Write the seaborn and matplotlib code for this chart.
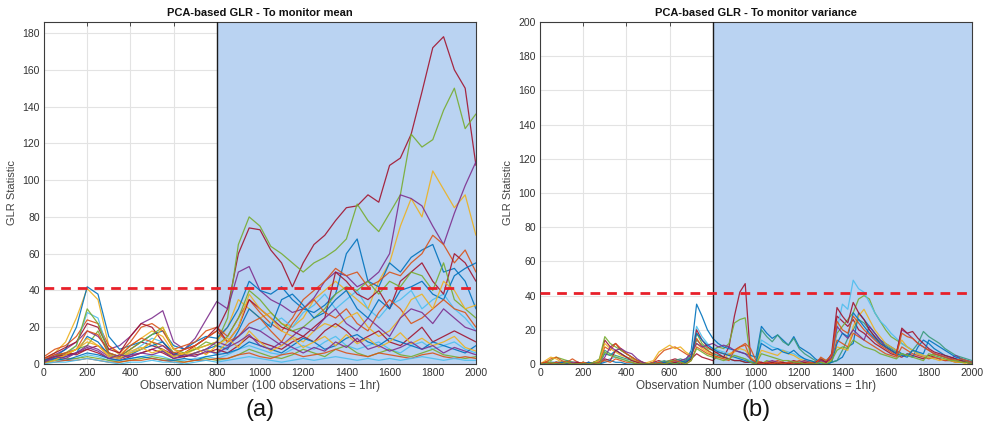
import numpy as np
import pandas as pd
import matplotlib
matplotlib.use("Agg")
import matplotlib.pyplot as plt
import seaborn as sns

# ---------------------------------------------------------------------------
# GLR statistic traces (one list per monitored run)
# Panel (a): sampled every 50 observations, 0..2000
# Panel (b): sampled every 25 observations, 0..2000
# ---------------------------------------------------------------------------
obs_a = np.arange(0, 2001, 50)
obs_b = np.arange(0, 2001, 25)

mean_runs = {
    "m01": [2, 4, 6, 5, 8, 10, 6, 4, 8, 12, 10, 8, 5, 6, 10, 14, 18, 30, 60, 74, 73, 62, 55, 42, 55, 65, 70, 78, 85, 86, 92, 88, 108, 112, 125, 148, 172, 178, 160, 150, 108],
    "m02": [1, 3, 5, 8, 10, 18, 5, 3, 6, 8, 12, 7, 4, 6, 8, 10, 12, 25, 65, 80, 75, 64, 60, 55, 50, 55, 58, 62, 68, 87, 78, 72, 82, 92, 125, 118, 122, 138, 150, 128, 136],
    "m03": [3, 6, 12, 25, 41, 35, 10, 5, 10, 14, 18, 15, 6, 5, 8, 10, 12, 20, 35, 30, 25, 28, 22, 20, 25, 35, 40, 45, 40, 35, 30, 45, 55, 75, 90, 80, 105, 95, 85, 92, 70],
    "m04": [2, 5, 8, 12, 18, 15, 8, 10, 15, 22, 25, 29, 12, 8, 14, 24, 34, 30, 50, 53, 40, 35, 32, 28, 30, 36, 45, 50, 48, 42, 45, 50, 60, 92, 90, 86, 75, 65, 82, 97, 110],
    "m05": [2, 4, 8, 20, 42, 38, 15, 8, 10, 12, 16, 18, 10, 8, 12, 15, 14, 20, 30, 45, 40, 38, 42, 35, 30, 28, 32, 38, 60, 68, 45, 42, 55, 50, 58, 62, 65, 50, 52, 45, 30],
    "m06": [4, 8, 10, 15, 24, 22, 10, 6, 12, 20, 22, 18, 8, 10, 12, 18, 20, 15, 25, 35, 28, 22, 18, 25, 35, 40, 45, 52, 48, 50, 42, 45, 50, 48, 55, 60, 70, 65, 55, 62, 50],
    "m07": [1, 3, 5, 10, 28, 25, 6, 4, 6, 10, 14, 12, 5, 4, 6, 8, 5, 10, 15, 20, 18, 22, 25, 20, 28, 32, 38, 30, 35, 40, 30, 25, 32, 35, 40, 30, 35, 38, 30, 25, 18],
    "m08": [3, 6, 9, 12, 22, 20, 8, 6, 15, 22, 20, 12, 5, 8, 10, 14, 20, 12, 20, 35, 30, 25, 20, 18, 15, 20, 25, 50, 45, 38, 35, 40, 30, 45, 50, 55, 45, 38, 60, 55, 45],
    "m09": [2, 4, 6, 10, 30, 22, 6, 4, 8, 12, 16, 20, 8, 6, 8, 12, 10, 15, 25, 40, 35, 28, 22, 18, 20, 25, 30, 38, 42, 40, 45, 38, 45, 42, 50, 48, 40, 55, 35, 30, 25],
    "m10": [1, 2, 4, 6, 15, 12, 5, 3, 5, 8, 10, 12, 6, 4, 6, 8, 10, 8, 18, 30, 25, 20, 35, 38, 32, 25, 28, 35, 40, 30, 25, 35, 30, 40, 42, 45, 38, 35, 48, 52, 55],
    "m11": [3, 5, 6, 8, 18, 16, 6, 4, 10, 14, 12, 10, 6, 8, 10, 14, 18, 12, 15, 22, 25, 18, 12, 22, 30, 35, 28, 25, 30, 22, 18, 28, 35, 30, 22, 25, 30, 35, 30, 28, 20],
    "m12": [2, 3, 5, 8, 12, 10, 5, 3, 6, 8, 12, 20, 8, 5, 6, 8, 6, 12, 20, 38, 30, 25, 18, 15, 12, 18, 22, 20, 25, 28, 20, 15, 18, 25, 35, 38, 30, 45, 40, 30, 32],
    "m13": [1, 3, 4, 6, 10, 8, 4, 3, 5, 6, 8, 10, 5, 4, 6, 8, 12, 10, 15, 20, 18, 14, 10, 15, 20, 18, 25, 30, 22, 18, 25, 20, 15, 25, 30, 28, 22, 30, 25, 20, 18],
    "m14": [2, 4, 5, 6, 8, 6, 3, 2, 4, 6, 8, 6, 3, 4, 5, 6, 8, 6, 10, 15, 12, 10, 8, 12, 15, 12, 18, 22, 18, 12, 15, 18, 12, 10, 15, 20, 12, 15, 18, 15, 12],
    "m15": [1, 2, 2, 3, 5, 4, 2, 2, 3, 4, 5, 4, 2, 2, 3, 4, 3, 5, 8, 10, 8, 6, 5, 8, 10, 8, 12, 15, 10, 8, 10, 12, 8, 6, 10, 12, 8, 10, 12, 8, 6],
    "m16": [1, 2, 3, 3, 4, 3, 2, 1, 2, 3, 4, 3, 2, 1, 2, 3, 2, 3, 5, 8, 6, 4, 3, 5, 8, 6, 4, 8, 10, 6, 4, 6, 8, 5, 4, 6, 8, 5, 4, 3, 4],
    "m17": [2, 3, 2, 4, 6, 5, 3, 2, 3, 4, 3, 2, 2, 3, 2, 4, 5, 6, 8, 12, 10, 8, 6, 10, 14, 12, 8, 10, 14, 16, 12, 10, 14, 12, 10, 8, 12, 10, 8, 6, 10],
    "m18": [1, 1, 2, 2, 3, 2, 1, 1, 2, 2, 3, 2, 1, 1, 2, 2, 3, 3, 5, 6, 4, 3, 5, 6, 4, 5, 6, 8, 6, 5, 4, 6, 5, 4, 3, 5, 6, 4, 3, 4, 3],
    "m19": [0, 2, 5, 8, 14, 10, 4, 3, 7, 9, 6, 8, 4, 6, 9, 5, 10, 14, 9, 18, 12, 7, 10, 14, 9, 12, 15, 10, 16, 11, 14, 9, 12, 17, 11, 14, 10, 12, 15, 9, 7],
    "m20": [1, 4, 3, 6, 9, 7, 3, 5, 4, 6, 5, 7, 3, 5, 4, 7, 6, 9, 12, 16, 10, 8, 12, 9, 6, 9, 7, 12, 9, 14, 8, 10, 7, 9, 12, 8, 10, 6, 9, 7, 5],
    "m21": [0, 1, 1, 2, 3, 2, 1, 0, 1, 1, 2, 1, 1, 0, 1, 2, 1, 2, 3, 4, 3, 2, 1, 2, 3, 2, 3, 4, 3, 2, 3, 2, 3, 2, 3, 4, 3, 2, 3, 2, 2],
}

var_runs = {
    "v01": [0, 1, 0, 1, 1, 1, 0, 0, 1, 0, 1, 2, 14, 10, 12, 8, 6, 4, 2, 1,
            0, 1, 2, 1, 2, 3, 2, 1, 3, 6, 4, 3, 2, 5, 4, 10, 28, 42, 47, 3,
            1, 0, 1, 0, 1, 0, 1, 2, 1, 0, 1, 0, 2, 1, 3, 28, 25, 22, 26, 20,
            18, 15, 12, 10, 8, 6, 5, 4, 6, 5, 4, 3, 5, 4, 3, 2, 2, 1, 1, 2, 1],
    "v02": [0, 1, 2, 4, 3, 2, 1, 0, 1, 0, 1, 3, 16, 12, 10, 8, 6, 4, 2, 1,
            0, 0, 1, 1, 2, 2, 1, 2, 4, 18, 12, 9, 8, 10, 9, 12, 24, 26, 27, 2,
            1, 0, 2, 1, 0, 1, 0, 1, 0, 1, 2, 1, 3, 2, 5, 18, 22, 26, 30, 38,
            40, 38, 30, 25, 20, 16, 14, 12, 10, 8, 6, 5, 4, 6, 5, 4, 3, 2, 2, 1, 1],
    "v03": [0, 0, 1, 1, 0, 1, 0, 0, 1, 0, 0, 1, 6, 5, 8, 6, 4, 3, 1, 0,
            0, 1, 0, 1, 0, 1, 1, 2, 8, 35, 28, 20, 15, 12, 10, 9, 8, 7, 6, 5,
            4, 22, 18, 15, 17, 14, 11, 16, 10, 8, 6, 3, 1, 0, 1, 2, 4, 10, 12, 30,
            26, 22, 18, 14, 12, 10, 8, 6, 5, 4, 10, 14, 12, 9, 7, 5, 4, 3, 2, 1, 0],
    "v04": [0, 0, 0, 1, 0, 0, 1, 0, 0, 1, 0, 0, 2, 3, 4, 3, 2, 1, 0, 0,
            0, 0, 1, 1, 0, 1, 2, 3, 6, 22, 16, 12, 9, 8, 7, 6, 5, 4, 3, 2,
            1, 14, 12, 10, 9, 8, 7, 6, 4, 3, 1, 0, 1, 2, 5, 20, 35, 32, 49, 44,
            42, 36, 30, 25, 22, 18, 15, 12, 10, 8, 6, 5, 4, 3, 5, 4, 3, 2, 1, 1, 0],
    "v05": [0, 0, 0, 1, 1, 2, 1, 1, 0, 0, 1, 2, 8, 6, 5, 4, 3, 2, 1, 0,
            0, 0, 1, 2, 1, 2, 3, 2, 5, 14, 11, 8, 6, 5, 4, 3, 2, 2, 1, 1,
            1, 20, 16, 13, 17, 13, 11, 15, 9, 6, 4, 2, 1, 0, 1, 2, 8, 15, 20, 26,
            24, 20, 16, 13, 11, 9, 7, 6, 5, 8, 12, 19, 16, 14, 12, 9, 7, 5, 4, 3, 2],
    "v06": [0, 1, 3, 4, 2, 1, 3, 1, 0, 1, 0, 1, 10, 8, 12, 9, 6, 4, 2, 1,
            0, 1, 5, 8, 9, 10, 8, 6, 4, 15, 10, 8, 6, 7, 6, 5, 8, 10, 12, 9,
            2, 1, 0, 1, 2, 1, 0, 1, 2, 1, 0, 1, 2, 1, 3, 14, 12, 10, 18, 16,
            14, 12, 10, 8, 6, 5, 4, 10, 8, 6, 5, 4, 3, 4, 3, 2, 3, 2, 1, 1, 0],
    "v07": [0, 2, 4, 3, 1, 0, 1, 0, 1, 0, 1, 2, 12, 9, 7, 5, 4, 3, 1, 0,
            1, 2, 7, 9, 11, 9, 10, 7, 5, 12, 9, 7, 5, 4, 3, 6, 7, 9, 8, 4,
            1, 8, 7, 6, 5, 8, 6, 5, 3, 2, 1, 0, 1, 0, 2, 10, 9, 8, 22, 28,
            32, 26, 20, 16, 12, 10, 8, 14, 10, 8, 6, 5, 4, 3, 2, 3, 2, 1, 1, 0, 0],
    "v08": [0, 0, 1, 0, 1, 0, 1, 1, 0, 1, 0, 1, 4, 10, 8, 9, 7, 6, 3, 1,
            0, 0, 1, 0, 1, 1, 2, 3, 6, 12, 10, 11, 12, 10, 11, 10, 8, 7, 6, 3,
            1, 0, 1, 2, 1, 0, 1, 0, 1, 2, 1, 0, 2, 1, 4, 22, 18, 15, 20, 17,
            14, 22, 18, 14, 10, 8, 6, 20, 18, 15, 12, 10, 8, 6, 5, 4, 3, 5, 3, 2, 1],
    "v09": [0, 1, 0, 1, 0, 1, 0, 1, 0, 0, 1, 0, 3, 2, 8, 6, 4, 2, 1, 0,
            0, 0, 0, 1, 0, 1, 0, 1, 3, 20, 14, 10, 8, 6, 4, 3, 2, 2, 1, 1,
            0, 1, 0, 1, 0, 1, 0, 1, 0, 1, 0, 1, 3, 1, 6, 33, 28, 24, 36, 30,
            26, 20, 16, 12, 10, 8, 6, 21, 18, 19, 15, 12, 9, 7, 6, 5, 4, 3, 2, 1, 0],
    "v10": [0, 0, 0, 0, 1, 0, 0, 0, 0, 1, 0, 0, 1, 2, 1, 1, 0, 0, 0, 0,
            0, 0, 0, 1, 0, 0, 1, 1, 4, 18, 14, 11, 9, 7, 6, 5, 4, 3, 2, 1,
            1, 12, 10, 8, 9, 7, 6, 8, 5, 3, 2, 1, 0, 0, 1, 12, 18, 16, 30, 26,
            22, 18, 15, 12, 10, 8, 6, 5, 4, 8, 7, 6, 14, 12, 10, 8, 6, 4, 3, 2, 1],
    "v11": [0, 1, 0, 1, 0, 1, 0, 0, 1, 0, 0, 1, 2, 1, 3, 2, 1, 1, 0, 0,
            0, 0, 1, 0, 1, 2, 1, 0, 2, 10, 8, 6, 5, 4, 3, 2, 8, 10, 11, 3,
            1, 0, 1, 0, 1, 0, 1, 0, 0, 0, 1, 0, 4, 2, 5, 25, 20, 18, 28, 24,
            20, 17, 14, 11, 9, 7, 5, 18, 16, 15, 12, 10, 8, 6, 5, 4, 3, 2, 3, 2, 1],
    "v12": [0, 0, 1, 0, 0, 1, 0, 0, 0, 0, 1, 0, 7, 5, 4, 3, 2, 1, 0, 0,
            0, 0, 0, 0, 1, 0, 1, 0, 2, 9, 7, 5, 4, 3, 2, 3, 5, 4, 3, 1,
            0, 6, 5, 4, 3, 2, 2, 1, 1, 0, 0, 0, 1, 0, 2, 8, 10, 9, 14, 12,
            10, 9, 8, 6, 5, 4, 3, 6, 5, 4, 3, 2, 6, 5, 4, 3, 2, 2, 1, 1, 0],
}

threshold = 41.5
shift_start = 800
titles = ["PCA-based GLR - To monitor mean", "PCA-based GLR - To monitor variance"]
panel_tags = ["(a)", "(b)"]
y_limits = [186, 200]
x_label = "Observation Number (100 observations = 1hr)"
y_label = "GLR Statistic"

# MATLAB-style default colour order
mean_colors = ["#A2142F", "#77AC30", "#EDB120", "#7E2F8E", "#0072BD", "#D95319", "#4DBEEE",
               "#A2142F", "#77AC30", "#0072BD", "#D95319", "#EDB120", "#7E2F8E", "#A2142F",
               "#4DBEEE", "#77AC30", "#0072BD", "#D95319", "#EDB120", "#7E2F8E", "#4DBEEE"]
var_colors = ["#A2142F", "#77AC30", "#0072BD", "#4DBEEE", "#3a9a7a", "#D95319",
              "#EDB120", "#7E2F8E", "#A2142F", "#0072BD", "#D95319", "#77AC30"]


def to_long(runs, obs):
    frames = []
    for name, vals in runs.items():
        frames.append(pd.DataFrame({"obs": obs, "glr": vals, "run": name}))
    return pd.concat(frames, ignore_index=True)


df_mean = to_long(mean_runs, obs_a)
df_var = to_long(var_runs, obs_b)

sns.set_theme(style="white")
plt.rcParams["font.family"] = ["Liberation Sans", "DejaVu Sans"]

fig = plt.figure(figsize=(9.84, 4.34), dpi=100)
ax_a = fig.add_axes([0.0447, 0.1613, 0.439, 0.788])
ax_b = fig.add_axes([0.5488, 0.1613, 0.439, 0.788])

panels = [(ax_a, df_mean, mean_colors), (ax_b, df_var, var_colors)]
for i, (ax, df, cols) in enumerate(panels):
    ax.set_axisbelow(True)
    ax.grid(True, color="#e3e3e3", linewidth=0.8)
    ax.axvspan(shift_start, 2000, color="#BAD3F2", zorder=1, lw=0)
    ax.axvline(shift_start, color="#1a1a1a", lw=1.0, zorder=4)
    sns.lineplot(data=df, x="obs", y="glr", hue="run", palette=cols,
                 legend=False, linewidth=0.9, alpha=0.9, ax=ax, zorder=2,
                 estimator=None, sort=False)
    ax.axhline(threshold, color="#E8202A", lw=2.0, ls=(0, (3.5, 2.5)), zorder=5)
    ax.set_xlim(0, 2000)
    ax.set_ylim(0, y_limits[i])
    ax.set_xticks(range(0, 2001, 200))
    ax.set_yticks(range(0, y_limits[i] + 1, 20))
    ax.tick_params(direction="in", length=3, width=0.6, labelsize=7.5,
                   colors="#333333", top=True, right=True, pad=3)
    for s in ax.spines.values():
        s.set_color("#3c3c3c")
        s.set_linewidth(0.8)
    ax.set_title(titles[i], fontsize=8, fontweight="bold", pad=4, color="#111111")
    ax.set_xlabel(x_label, fontsize=8.5, color="#444444", labelpad=1)
    ax.set_ylabel(y_label, fontsize=8, color="#444444", labelpad=4)
    pos = ax.get_position()
    fig.text(pos.x0 + pos.width / 2, 0.055, panel_tags[i], ha="center",
             va="center", fontsize=17, color="#111111")

fig.savefig("out.png", dpi=100, facecolor="white")
